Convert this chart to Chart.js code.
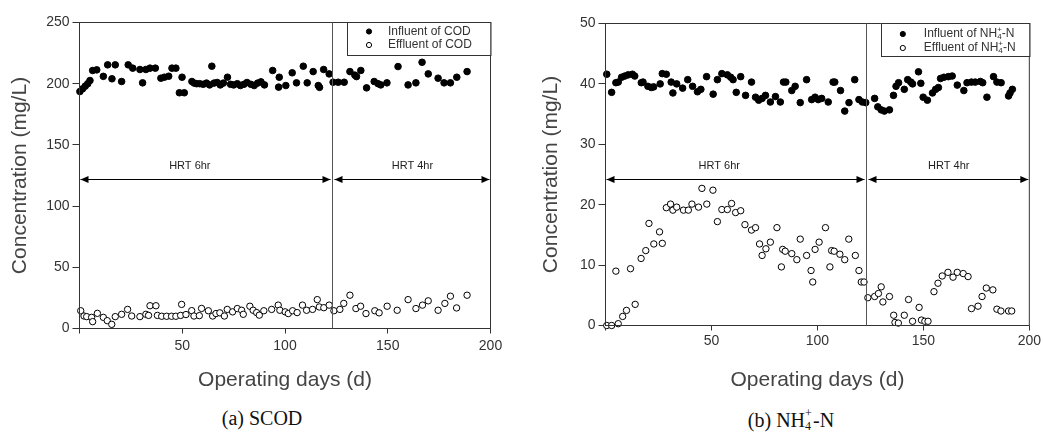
<!DOCTYPE html>
<html><head><meta charset="utf-8">
<script src="https://cdn.jsdelivr.net/npm/chart.js@4.4.1/dist/chart.umd.min.js"></script>
<style>
html,body{margin:0;padding:0;background:#fff;width:1043px;height:445px;overflow:hidden;}
#w1{position:absolute;left:0;top:0;width:520px;height:400px;}
#w2{position:absolute;left:526px;top:0;width:517px;height:400px;}
.cap{position:absolute;top:407px;font-family:"Liberation Serif","Times New Roman",serif;font-size:20px;color:#111;white-space:nowrap;transform:translateX(-50%);}
.ss{display:inline-block;position:relative;width:8px;height:20px;vertical-align:baseline;}
.ss span{position:absolute;left:0;font-size:12px;line-height:12px;}
</style></head><body>
<div id="w1"><canvas id="c1" width="520" height="400"></canvas></div>
<div id="w2"><canvas id="c2" width="517" height="400"></canvas></div>
<div class="cap" style="left:262px">(a) SCOD</div>
<div class="cap" style="left:791px">(b) NH<span class="ss"><span style="top:0px">+</span><span style="top:13px">4</span></span>-N</div>
<script>
// ---------- data ----------
const codInDays = [0.2,1.5,2.8,4,5.1,6.4,8.4,11.6,13.7,15.8,17.4,20.5,23.7,25.9,29.4,30.7,32.3,34.3,36.9,39.6,41.3,43.4,45,46.9,48.6,49.9,51,54.7,55.8,57,58.5,60.2,61.8,63.3,64.4,65.5,67,68.5,70,72,73.5,75,76.8,78.3,80,81.5,83.4,85,86.7,88.3,90,94,96.9,97.2,100.4,103.5,105.6,108.9,110.8,113.7,116.2,116.8,118.8,121.5,123.4,125.9,128.8,131.6,134,134.8,136.9,139.7,143.4,145.3,146.6,149.6,155,159.9,163.7,166.7,169.7,174.5,177.4,180.5,183.6,188.6];
const codInfluent = [193.6,195.8,198,200,202.6,210.8,211.3,206,215.4,204,215.4,201.8,215.4,212.7,211.6,200.7,211.6,212.7,212.7,204.5,205.3,206.1,212.7,212.7,192.6,205.3,192.6,201.8,200.5,200,200,199.5,200.5,199,214.3,200.5,201,199,200.5,205.3,199.5,199,200,198.5,199.5,201,199.5,198.5,200.5,201.5,199,210.8,197.2,205.3,198.5,208.9,200.7,214.3,200.7,209.9,198.5,197,211.6,208,201.2,201.2,201.2,209.9,207,205.8,210.8,196.6,201.8,200,199,200.7,214,199,200.7,217.5,208,204.5,200.7,200.7,205.3,209.9];
const codEffDays = [0.6,2.2,3.5,5.9,6.4,8.7,11.6,13.5,15.7,17.4,20.5,23.4,25.4,29.4,32.3,33.6,34.3,37.2,37.9,40,42.4,44.8,46.9,49.2,49.7,51.8,54.6,55.7,58.3,59.4,62.7,64.8,66.4,68.3,70.5,71.9,74.5,76.8,78.9,79.7,82.9,84.5,86.2,87.5,89.7,93.5,96.7,97.5,100.1,101.6,103.7,105.9,108.5,110.5,113.4,115.7,116.7,118.9,121.5,123.8,126.7,128.6,131.6,134.5,136.8,139.4,143.7,145.8,149.7,154.6,159.9,163.7,166.9,169.7,174.5,177.8,180.5,183.5,188.6];
const codEffluent = [14.5,10.2,9.7,9.1,5.6,12.4,9.1,6.4,3.4,9.7,11.6,15.6,10.2,9.7,11.6,10.7,18.6,18.6,10.7,10,10,10,10,10.7,19.7,11.4,14.6,10.2,10.5,16.4,14.5,10.2,12.2,12.8,10.2,15.6,13.6,16.3,14.9,11.6,18.2,14.9,13,10.9,14.5,15.6,19.1,14.9,13.6,12.2,14.5,13,19.1,14.9,15.6,23.6,17.6,17,19.1,14.5,15.6,20.5,27.2,16.3,18.2,12.2,14.5,12.8,18.2,14.9,23.6,16.3,19.1,22.6,14.9,20.5,26.4,16.8,27.2];

const nh4InDays = [0.6,2.9,4.9,6,7.6,9.1,10.7,12.7,13.8,16.9,17.7,20,21.6,22.7,25.8,26.8,28.7,31,31.8,33.6,36.4,38.8,41.1,43.4,45,47.7,50.8,52.8,54.9,57.5,59.1,60.2,61.7,63.8,66.1,68.9,70.8,72.3,73.9,75.5,77.8,80.2,82.5,84,85.1,87.9,89.5,91.9,94.9,97.3,98.9,100.4,102,105.1,107.4,108.2,110.9,112.9,114.9,117.6,119.6,121.2,122.8,127,128.5,130.1,131.6,134,135.9,137.1,138.3,141,142.6,144.1,144.9,147.7,148.8,149.9,151.9,154.3,155.8,157.1,158.1,159.7,161.8,163.6,166,169.1,170.6,172.7,174.5,176.9,178,180,183.1,184.7,186.7,190.2,190.9,192];
const nh4Influent = [41.6,38.6,40.2,40.3,41.1,41.3,41.5,41.6,41.3,40.2,40.3,39.6,39.4,39.5,40,41.7,41.6,40.3,38.5,40,39.3,40.7,39.6,38.7,39.1,41.2,38.3,40.7,41.7,41.5,41.1,40.7,38.6,41.2,38.1,40.3,37.8,37.3,37.6,38.1,37,37.9,37,40.3,40.3,38.9,39.6,36.9,40.7,37.4,37.8,37.4,37.6,37,40.3,40.3,38.9,35.5,36.9,40.7,37.4,37,36.9,37.6,36.2,35.7,35.5,35.7,38.1,39.6,40.2,39.1,40.7,40.3,40,42,40.1,37.8,37.3,38.5,39.1,39.4,40.9,41.1,41.2,41.3,39.8,38.9,40.2,40.3,40.3,40.4,40.2,37.8,41.2,40.3,40.2,38,38.5,39.1];
const nh4EffDays = [0.6,2.9,4.9,6,8.1,9.9,11.8,14,16.8,19,20.5,22.8,25.5,26.8,28.7,30.7,31.8,33.6,36.8,39.1,40.8,43.9,45.5,47.8,50.7,52.8,54.9,57.5,59.5,61.4,63.8,65.8,68.9,70.8,72.7,73.9,75.7,77.8,80.9,83,83.6,84.8,87.9,90.3,91.9,94.9,97,97.8,98.9,100.8,103.8,105.9,106.7,107.9,110.6,112.9,114.8,117.9,119.6,120.7,122,123.8,127,128.8,130.1,130.9,134,136,136.6,138.2,141,143,144.9,148,149.1,150.7,152.2,155,156.9,158.9,161.6,164,166,168.8,171.1,172.7,175.8,177.7,179.7,182.8,184.7,186.6,190.2,191.7];
const nh4Effluent = [0,0,9,0.3,1.5,2.5,9.4,3.5,11.1,12.4,16.9,13.5,15.5,13.6,19.5,20.1,19.1,19.6,19.1,19.1,20.1,19.6,22.7,20.1,22.4,17.2,19.2,19.2,20.2,18.7,19,16.7,15.8,16.2,13.5,11.6,12.7,13.8,16.2,9.7,12.6,12.3,11.9,10.9,14.3,11.6,9.1,7.2,12.6,13.8,16.2,9.7,12.4,12.3,11.8,10.9,14.3,11.6,9.1,7.2,7.2,4.6,4.8,5.3,6.4,3.9,4.8,1.7,0.5,0.4,1.7,4.3,0.7,3,0.9,0.7,0.7,5.6,7,8.2,8.8,8,8.8,8.6,8.1,2.8,3.2,4.8,6.2,5.9,2.7,2.4,2.4,2.4];

const xMin = 0, xMax = 200, xStep = 50;
const codYMax = 250, codYStep = 50;
const nh4YMax = 50, nh4YStep = 10;
const hrtSwitchDay = 123;
const codArrowLevel = 122, nh4ArrowLevel = 24.2;
const codLabelLevel = 132.5, nh4LabelLevel = 26.4;
const hrtLabels = ['HRT 6hr', 'HRT 4hr'];
const hrtLabelDays = [53.7, 162];
const xTitle = 'Operating days (d)';
const yTitle = 'Concentration (mg/L)';

// ---------- helpers ----------
const SANS = '"Liberation Sans", Arial, sans-serif';
const pts = (xs, ys) => xs.map((x, i) => ({x: x, y: ys[i]}));

function drawMarker(ctx, x, y, r, filled) {
  ctx.beginPath();
  ctx.arc(x, y, r, 0, Math.PI * 2);
  ctx.fillStyle = filled ? '#000' : '#fff';
  ctx.fill();
  ctx.lineWidth = 1;
  ctx.strokeStyle = '#000';
  ctx.stroke();
}

function drawRichText(ctx, parts, x, y) {
  let cx = x;
  parts.forEach(p => {
    if (p.kind === 'stack') {
      ctx.font = '8px ' + SANS;
      ctx.fillText(p.sup, cx, y - 4);
      ctx.fillText(p.sub, cx, y + 3);
      cx += Math.max(ctx.measureText(p.sup).width, ctx.measureText(p.sub).width);
    } else {
      ctx.font = '12px ' + SANS;
      ctx.fillText(p.t, cx, y);
      cx += ctx.measureText(p.t).width;
    }
  });
}

const decorPlugin = {
  id: 'decor',
  afterDatasetsDraw(chart, args, opts) {
    const ctx = chart.ctx;
    const a = chart.chartArea;
    const xs = chart.scales.x, ys = chart.scales.y;
    ctx.save();
    ctx.strokeStyle = '#333';
    ctx.lineWidth = 1;
    ctx.strokeRect(a.left, a.top, a.right - a.left, a.bottom - a.top);
    const xd = Math.round(xs.getPixelForValue(opts.switchDay)) + 0.5;
    ctx.strokeStyle = '#555';
    ctx.beginPath(); ctx.moveTo(xd, a.top); ctx.lineTo(xd, a.bottom); ctx.stroke();
    const ya = Math.round(ys.getPixelForValue(opts.arrowLevel)) + 0.5;
    const x0 = xs.getPixelForValue(xMin) + 1, x2 = xs.getPixelForValue(xMax) - 1;
    ctx.strokeStyle = '#000'; ctx.fillStyle = '#000';
    const head = (tip, dir) => {
      ctx.beginPath();
      ctx.moveTo(tip, ya);
      ctx.lineTo(tip - dir * 8, ya - 3.5);
      ctx.lineTo(tip - dir * 8, ya + 3.5);
      ctx.closePath(); ctx.fill();
    };
    [[x0, xd - 2], [xd + 2, x2]].forEach(([s, e]) => {
      ctx.beginPath(); ctx.moveTo(s, ya); ctx.lineTo(e, ya); ctx.stroke();
      head(s, -1); head(e, 1);
    });
    ctx.font = '11px ' + SANS;
    ctx.fillStyle = '#222';
    ctx.textAlign = 'center'; ctx.textBaseline = 'middle';
    const yl = ys.getPixelForValue(opts.labelLevel);
    hrtLabels.forEach((t, i) => ctx.fillText(t, xs.getPixelForValue(hrtLabelDays[i]), yl));
    const lw = opts.legendW, lh = 33;
    const lx = a.right - lw, ly = a.top;
    ctx.fillStyle = '#fff';
    ctx.fillRect(lx, ly, lw, lh);
    ctx.strokeStyle = '#333';
    ctx.strokeRect(Math.round(lx) + 0.5, ly, lw, lh);
    ctx.textAlign = 'left'; ctx.textBaseline = 'middle';
    opts.legend.forEach((item, i) => {
      const ry = ly + opts.rowY[i];
      drawMarker(ctx, lx + 22, ry, 2.6, item.filled);
      ctx.fillStyle = '#333';
      drawRichText(ctx, item.parts, lx + opts.textX, ry);
    });
    ctx.restore();
  }
};

function makeChart(id, cfg) {
  return new Chart(document.getElementById(id), {
    type: 'scatter',
    data: {
      datasets: [
        {data: pts(cfg.inDays, cfg.inVals), pointRadius: 3.3, pointHoverRadius: 3.3,
         pointBackgroundColor: '#000', pointBorderColor: '#000', pointBorderWidth: 1, clip: false},
        {data: pts(cfg.effDays, cfg.effVals), pointRadius: 3.2, pointHoverRadius: 3.2,
         pointBackgroundColor: '#fff', pointBorderColor: '#000', pointBorderWidth: 1, clip: false}
      ]
    },
    options: {
      responsive: false, animation: false,
      events: [],
      layout: {padding: {top: cfg.padTop, right: cfg.padRight, left: 0, bottom: 0}},
      plugins: {legend: {display: false}, tooltip: {enabled: false},
        decor: {switchDay: hrtSwitchDay, arrowLevel: cfg.arrowLevel, labelLevel: cfg.labelLevel,
                legendW: cfg.legendW, legend: cfg.legend, rowY: cfg.rowY, textX: cfg.textX}},
      scales: {
        x: {type: 'linear', min: xMin, max: xMax,
            ticks: {stepSize: xStep, callback: v => v === 0 ? '' : v, color: '#333',
                    font: {family: SANS, size: 14}, padding: cfg.xTickPad, maxRotation: 0, autoSkip: false},
            grid: {drawOnChartArea: false, drawTicks: true, tickLength: 5, color: '#333'},
            border: {display: false},
            title: {display: true, text: xTitle, color: '#444', font: {family: SANS, size: 21, lineHeight: 1},
                    padding: {top: 0, bottom: 9}},
            afterFit: s => { s.height = cfg.xH; }},
        y: {type: 'linear', min: 0, max: cfg.yMax,
            ticks: {stepSize: cfg.yStep, color: '#333', font: {family: SANS, size: 14}, padding: 3},
            grid: {drawOnChartArea: false, drawTicks: true, tickLength: 7, color: '#333'},
            border: {display: false},
            title: {display: true, text: yTitle, color: '#444', font: {family: SANS, size: 21, lineHeight: 1},
                    padding: {top: cfg.yTitlePad, bottom: 0}},
            afterFit: s => { s.width = 79.5; }}
      }
    },
    plugins: [decorPlugin]
  });
}

makeChart('c1', {
  inDays: codInDays, inVals: codInfluent, effDays: codEffDays, effVals: codEffluent,
  yMax: codYMax, yStep: codYStep, arrowLevel: codArrowLevel, labelLevel: codLabelLevel,
  padTop: 22.5, padRight: 29.5, xH: 71.5, xTickPad: 4, yTitlePad: 10,
  legendW: 143.5, rowY: [9, 22.5], textX: 41,
  legend: [
    {filled: true, parts: [{t: 'Influent of COD', kind: 'n'}]},
    {filled: false, parts: [{t: 'Effluent of COD', kind: 'n'}]}
  ]
});

makeChart('c2', {
  inDays: nh4InDays, inVals: nh4Influent, effDays: nh4EffDays, effVals: nh4Effluent,
  yMax: nh4YMax, yStep: nh4YStep, arrowLevel: nh4ArrowLevel, labelLevel: nh4LabelLevel,
  padTop: 23.5, padRight: 10.5, xH: 74.5, xTickPad: 2, yTitlePad: 14.5,
  legendW: 148.5, rowY: [10.5, 24.5], textX: 43,
  legend: [
    {filled: true, parts: [{t: 'Influent of NH', kind: 'n'}, {kind: 'stack', sup: '+', sub: '4'}, {t: '-N', kind: 'n'}]},
    {filled: false, parts: [{t: 'Effluent of NH', kind: 'n'}, {kind: 'stack', sup: '+', sub: '4'}, {t: '-N', kind: 'n'}]}
  ]
});
</script>
</body></html>
